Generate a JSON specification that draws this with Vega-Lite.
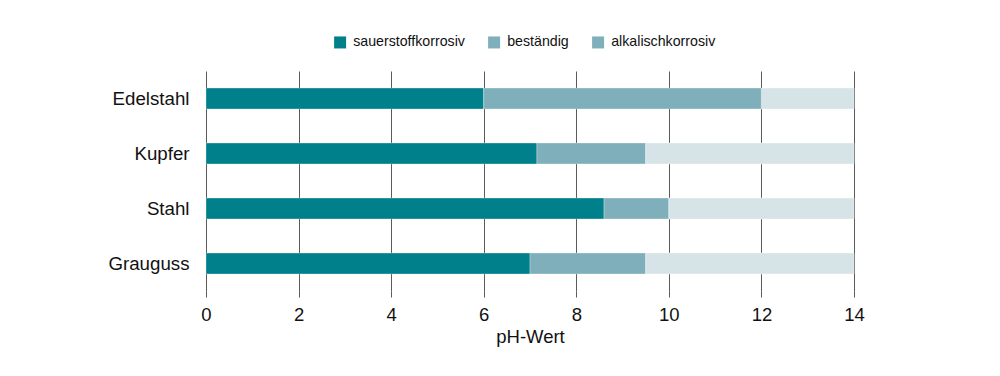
{
  "$schema": "https://vega.github.io/schema/vega-lite/v6.json",
  "autosize": {"type": "none"},
  "width": 648,
  "height": 220,
  "padding": {"left": 206, "top": 71, "right": 146, "bottom": 85},
  "background": "white",
  "config": {"view": {"stroke": null}, "font": "Liberation Sans"},
  "data": {"values": [
    {"material": "Edelstahl", "zone": "sauerstoffkorrosiv", "start": 0, "end": 6},
    {"material": "Edelstahl", "zone": "beständig", "start": 6, "end": 12},
    {"material": "Edelstahl", "zone": "alkalischkorrosiv", "start": 12, "end": 14},
    {"material": "Kupfer", "zone": "sauerstoffkorrosiv", "start": 0, "end": 7.15},
    {"material": "Kupfer", "zone": "beständig", "start": 7.15, "end": 9.5},
    {"material": "Kupfer", "zone": "alkalischkorrosiv", "start": 9.5, "end": 14},
    {"material": "Stahl", "zone": "sauerstoffkorrosiv", "start": 0, "end": 8.6},
    {"material": "Stahl", "zone": "beständig", "start": 8.6, "end": 10},
    {"material": "Stahl", "zone": "alkalischkorrosiv", "start": 10, "end": 14},
    {"material": "Grauguss", "zone": "sauerstoffkorrosiv", "start": 0, "end": 7},
    {"material": "Grauguss", "zone": "beständig", "start": 7, "end": 9.5},
    {"material": "Grauguss", "zone": "alkalischkorrosiv", "start": 9.5, "end": 14}
  ]},
  "encoding": {
    "y": {
      "field": "material", "type": "nominal",
      "sort": ["Edelstahl", "Kupfer", "Stahl", "Grauguss"],
      "scale": {"paddingInner": 0.62, "paddingOuter": 0.31},
      "axis": {"title": null, "ticks": false, "domain": false, "labelFontSize": 18.7, "labelColor": "#111", "labelPadding": 17}
    },
    "x": {
      "field": "start", "type": "quantitative",
      "scale": {"domain": [0, 14], "nice": false},
      "axis": {
        "title": "pH-Wert", "titleFontSize": 18.5, "titleFontWeight": "normal", "titleColor": "#111", "titlePadding": 4,
        "values": [0, 2, 4, 6, 8, 10, 12, 14],
        "labelFontSize": 18.5, "labelColor": "#111", "labelPadding": 8, "labelFlush": false,
        "grid": true, "gridColor": "#5a5a5a", "gridWidth": 1,
        "domain": false, "tickColor": "#5a5a5a", "tickSize": 6
      }
    },
    "x2": {"field": "end"}
  },
  "layer": [
    {
      "mark": {"type": "bar", "stroke": "white", "strokeWidth": 0.5, "strokeOpacity": 0.6},
      "encoding": {
        "color": {
          "field": "zone", "type": "nominal",
          "scale": {"domain": ["sauerstoffkorrosiv", "beständig", "alkalischkorrosiv"], "range": ["#00808a", "#7eafba", "#7eafba"]},
          "legend": {
            "title": null, "orient": "none", "direction": "horizontal",
            "legendX": 127, "legendY": -36,
            "symbolType": "square", "symbolSize": 144, "symbolStrokeWidth": 0, "symbolOpacity": 1,
            "labelFontSize": 14.2, "labelColor": "#111", "columnPadding": 22, "labelOffset": 6
          }
        }
      }
    },
    {
      "transform": [{"filter": "datum.zone === 'alkalischkorrosiv'"}],
      "mark": {"type": "bar", "color": "#d6e4e8", "stroke": "white", "strokeWidth": 0.5, "strokeOpacity": 0.6}
    }
  ]
}
